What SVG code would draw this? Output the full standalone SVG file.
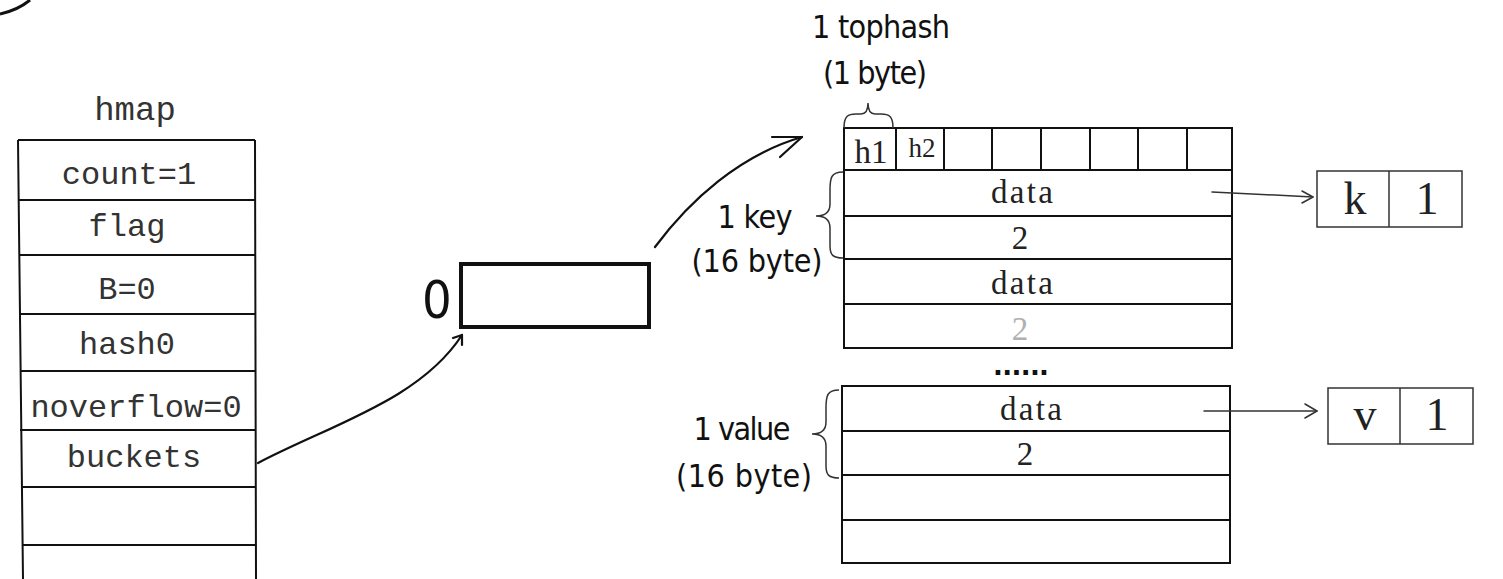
<svg xmlns="http://www.w3.org/2000/svg" width="1503" height="579" viewBox="0 0 1503 579">
<style>
.ln{stroke:#111;stroke-width:2;fill:none}
.thin{stroke:#333;stroke-width:1.5;fill:none}
.mono{font-family:"Liberation Mono","Courier New",monospace;font-size:32px;fill:#333;text-anchor:middle}
.serif{font-family:"Liberation Serif","Times New Roman",serif;font-size:33px;fill:#222;text-anchor:middle}
.big{font-family:"Liberation Serif","Times New Roman",serif;font-size:46px;fill:#222;text-anchor:middle}
.hand{font-family:"DejaVu Sans",sans-serif;font-stretch:condensed;font-size:32px;fill:#111;text-anchor:middle}
.conn{stroke:#111;stroke-width:2.2;fill:none;stroke-linecap:round;stroke-linejoin:round}
.conn2{stroke:#333;stroke-width:1.5;fill:none;stroke-linecap:round;stroke-linejoin:round}
</style>
<rect width="1503" height="579" fill="#fff"/>
<path d="M0,14 Q18,10 30,0" stroke="#111" stroke-width="3" fill="none"/>

<g id="hmap">
  <text class="mono" x="135" y="120" style="font-size:34px">hmap</text>
  <path class="ln" d="M18,140 L23,579 M255,140 L256,579 M18,140 H255 M18,200 H255 M19,255 H255 M19,314 H255 M20,371 H255 M20,430 H255 M21,487 H255 M22,545 H256"/>
  <text class="mono" x="129" y="184">count=1</text>
  <text class="mono" x="127" y="236">flag</text>
  <text class="mono" x="127" y="299">B=0</text>
  <text class="mono" x="127" y="354">hash0</text>
  <text class="mono" x="136" y="417">noverflow=0</text>
  <text class="mono" x="134" y="467">buckets</text>
</g>

<g id="bucketArray">
  <text class="hand" x="437" y="318" style="font-size:52px">0</text>
  <rect x="461" y="264" width="188" height="63" fill="none" stroke="#111" stroke-width="4"/>
</g>

<g id="bucket">
  <path class="ln" d="M844,128 H1232 V348 H844 Z M844,170 H1232 M844,216 H1232 M844,259 H1232 M844,304 H1232 M896,128 V170 M944,128 V170 M992,128 V170 M1041,128 V170 M1090,128 V170 M1138,128 V170 M1187,128 V170"/>
  <text class="serif" x="871" y="163">h1</text>
  <text class="serif" x="922" y="157" style="font-size:27px">h2</text>
  <text class="serif" x="1022" y="203" textLength="62">data</text>
  <text class="serif" x="1020" y="249">2</text>
  <text class="serif" x="1022" y="294" textLength="62">data</text>
  <text class="serif" x="1020" y="340" style="fill:#b0b0b0">2</text>
  <text x="1021" y="375" style="font-family:'DejaVu Sans',sans-serif;font-size:26px;font-weight:bold;fill:#111;text-anchor:middle" textLength="56">......</text>
  <path class="ln" d="M842,386 H1230 V563 H842 Z M842,431 H1230 M842,475 H1230 M842,520 H1230"/>
  <text class="serif" x="1031" y="420" textLength="62">data</text>
  <text class="serif" x="1025" y="465">2</text>
</g>

<g id="labels">
  <text class="hand" x="881" y="38" textLength="138">1 tophash</text>
  <text class="hand" x="875" y="84" textLength="104">(1 byte)</text>
  <path class="thin" d="M844,128 C844,116 848,114 856,114 L861,114 C866,114 868,110 868,103 C868,110 870,114 875,114 L881,114 C889,114 893,116 893,128"/>
  <text class="hand" x="755" y="228" textLength="75">1 key</text>
  <text class="hand" x="757" y="272" textLength="131">(16 byte)</text>
  <path class="thin" d="M843,172 C831,172 830,178 830,190 L830,204 C830,212 826,216 816,216 C826,216 830,220 830,228 L830,246 C830,255 833,258 843,258"/>
  <text class="hand" x="742" y="440" textLength="97">1 value</text>
  <text class="hand" x="744" y="487" textLength="136">(16 byte)</text>
  <path class="thin" d="M839,390 C827,390 826,396 826,408 L826,422 C826,430 822,434 812,434 C822,434 826,438 826,446 L826,466 C826,475 829,478 839,478"/>
</g>

<g id="kbox">
  <rect class="thin" x="1317" y="171" width="145" height="56"/>
  <line class="thin" x1="1389" y1="171" x2="1389" y2="227"/>
  <text class="big" x="1355" y="214">k</text>
  <text class="big" x="1427" y="214">1</text>
</g>
<g id="vbox">
  <rect class="thin" x="1328" y="388" width="145" height="56"/>
  <line class="thin" x1="1400" y1="388" x2="1400" y2="444"/>
  <text class="big" x="1365" y="430">v</text>
  <text class="big" x="1437" y="430">1</text>
</g>

<g id="connectors">
  <path class="conn" d="M258,463 C330,425 420,400 462,335"/>
  <path class="conn" d="M453,338 L462,335 L462,345"/>
  <path class="conn" d="M655,247 C690,200 740,155 802,137"/>
  <path class="conn" d="M772,137 L802,137 L780,157"/>
  <path class="conn2" d="M1212,192 L1313,197"/>
  <path class="conn2" d="M1302,191 L1313,197 L1302,203"/>
  <path class="conn2" d="M1204,411 L1317,411"/>
  <path class="conn2" d="M1305,404 L1317,411 L1305,418"/>
</g>
</svg>
